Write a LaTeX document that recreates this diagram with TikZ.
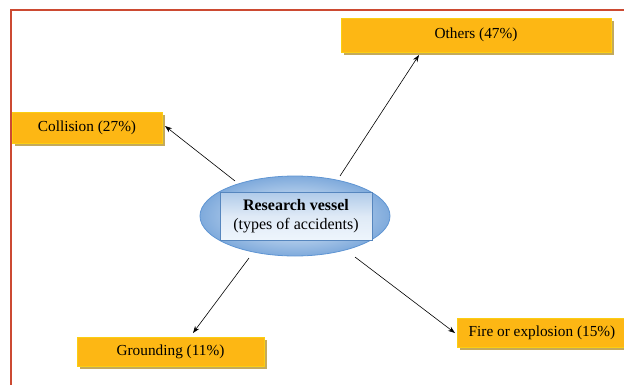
\documentclass[tikz,border=0pt]{standalone}
\usepackage{fontspec}
\setmainfont{Liberation Serif}
\usetikzlibrary{shapes.geometric,shadows,arrows.meta}
\definecolor{boxor}{HTML}{FDB714}
\definecolor{shadowtan}{HTML}{C4AA5C}
\definecolor{frame}{HTML}{CC4A32}
\definecolor{ellb}{HTML}{5F95D3}
\definecolor{elll}{HTML}{EEF5FC}
\tikzset{
  catbox/.style={fill=boxor, draw=yellow!40!boxor, line width=0.8pt, inner sep=0pt,
    font=\fontsize{15.3}{17}\selectfont, text=black,
    drop shadow={shadow xshift=3pt, shadow yshift=-3pt, fill=shadowtan, opacity=1}},
  conn/.style={-{Stealth[length=7pt,width=5pt]}, line width=0.6pt},
}
\begin{document}
\begin{tikzpicture}[x=1pt,y=1pt]
\useasboundingbox (0,0) rectangle (624,384);
\draw[frame, line width=2pt] (11,-5) -- (11,374) -- (630,374);
% center
\node[ellipse, draw=ellb, line width=0.8pt, minimum width=190pt, minimum height=80pt,
  inner color=elll, outer color=ellb!80] (ell) at (295,168) {};
\node[draw=ellb!90!black, line width=0.8pt, minimum width=152pt, minimum height=48pt,
  top color=ellb!50, bottom color=elll, middle color=ellb!20,
  font=\fontsize{16}{19}\selectfont, align=center] (rv) at (296,168)
  {\textbf{Research vessel}\\(types of accidents)};
% boxes
\node[catbox, minimum width=270pt, minimum height=34pt] (oth) at (476,349) {Others (47\%)};
\node[catbox, minimum width=150pt, minimum height=31pt] (col) at (87,256.5) {Collision (27\%)};
\node[catbox, minimum width=170pt, minimum height=29pt] (fir) at (542,51.5) {Fire or explosion (15\%)};
\node[catbox, minimum width=187pt, minimum height=29pt] (gro) at (170.5,32.5) {Grounding (11\%)};
% connectors
\coordinate (sOth) at (340,208);
\coordinate (sCol) at (235,203);
\coordinate (sGro) at (249,126);
\coordinate (sFir) at (355,127);
\coordinate (eOth) at (419,329);
\coordinate (eCol) at (165,258);
\coordinate (eGro) at (193,51);
\coordinate (eFir) at (455,51);
\draw[conn] (sOth) -- (eOth);
\draw[conn] (sCol) -- (eCol);
\draw[conn] (sGro) -- (eGro);
\draw[conn] (sFir) -- (eFir);
\end{tikzpicture}
\end{document}
